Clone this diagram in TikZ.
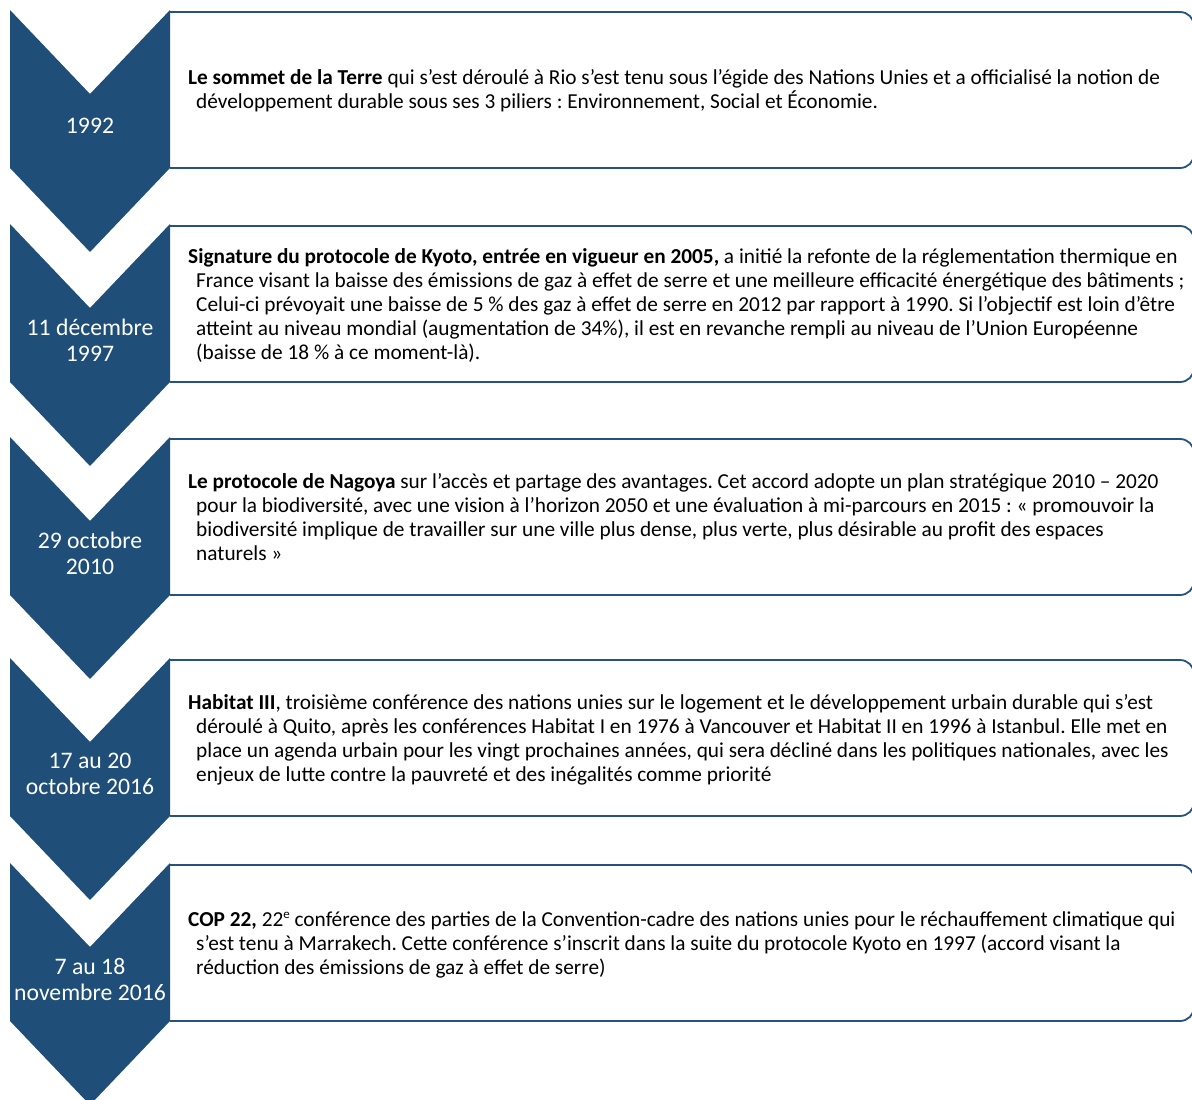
\documentclass[tikz,border=0pt]{standalone}
\usepackage{fontspec}
\setmainfont{Carlito}
\definecolor{navy}{HTML}{1F4E79}
\definecolor{edge}{HTML}{25527F}
\begin{document}
\frenchspacing
\begin{tikzpicture}[x=1pt,y=-1pt,
  chev/.style={fill=navy,draw=none},
  evbox/.style={draw=edge,line width=1.8pt,rounded corners=14pt},
  datelbl/.style={text=white,align=center,inner sep=0pt,font=\fontsize{23.7}{26}\selectfont},
  evtext/.style={anchor=west,align=left,inner sep=0pt,text=black,font=\fontsize{21.3}{24}\selectfont}]
\useasboundingbox (0,0) rectangle (1192,1100);
\clip (0,0) rectangle (1192,1100);
\newcommand{\ind}{\hspace*{8pt}}
\newcommand{\supe}{\raisebox{0.72ex}{\fontsize{13}{13}\selectfont e}}
% chevrons and boxes
\foreach \t/\n in {10/1,224/2,437/3,658/4,863/5}{
  \path[chev] (10,\t) -- (90,\t+84) -- (170,\t) -- (170,\t+158) -- (90,\t+242) -- (10,\t+158) -- cycle;
  \draw[evbox] (170,\t+2) -- (1194,\t+2) -- (1194,\t+158) -- (170,\t+158);
}
% dates
\node[datelbl] (d1) at (90,126) {1992};
\node[datelbl] (d2) at (90,340) {11 décembre\\1997};
\node[datelbl] (d3) at (90,553) {29 octobre\\2010};
\node[datelbl] (d4) at (90,774) {17 au 20\\octobre 2016};
\node[datelbl] (d5) at (90,979) {7 au 18\\novembre 2016};
% texts
\node[evtext] (t1) at (188,90.5) {\textbf{Le sommet de la Terre} qui s’est déroulé à Rio s’est tenu sous l’égide des Nations Unies et a officialisé la notion de\\
\ind développement durable sous ses 3 piliers : Environnement, Social et Économie.};
\node[evtext] (t2) at (188,305.5) {\textbf{Signature du protocole de Kyoto, entrée en vigueur en 2005,} a initié la refonte de la réglementation thermique en\\
\ind France visant la baisse des émissions de gaz à effet de serre et une meilleure efficacité énergétique des bâtiments ;\\
\ind Celui-ci prévoyait une baisse de 5 \% des gaz à effet de serre en 2012 par rapport à 1990. Si l’objectif est loin d’être\\
\ind atteint au niveau mondial (augmentation de 34\%), il est en revanche rempli au niveau de l’Union Européenne\\
\ind (baisse de 18 \% à ce moment-là).};
\node[evtext] (t3) at (188,517.5) {\textbf{Le protocole de Nagoya} sur l’accès et partage des avantages. Cet accord adopte un plan stratégique 2010 – 2020\\
\ind pour la biodiversité, avec une vision à l’horizon 2050 et une évaluation à mi-parcours en 2015 : « promouvoir la\\
\ind biodiversité implique de travailler sur une ville plus dense, plus verte, plus désirable au profit des espaces\\
\ind naturels »};
\node[evtext] (t4) at (188,739.5) {\textbf{Habitat III}, troisième conférence des nations unies sur le logement et le développement urbain durable qui s’est\\
\ind déroulé à Quito, après les conférences Habitat I en 1976 à Vancouver et Habitat II en 1996 à Istanbul. Elle met en\\
\ind place un agenda urbain pour les vingt prochaines années, qui sera décliné dans les politiques nationales, avec les\\
\ind enjeux de lutte contre la pauvreté et des inégalités comme priorité};
\node[evtext] (t5) at (188,944.5) {\textbf{COP 22,} 22\supe{} conférence des parties de la Convention-cadre des nations unies pour le réchauffement climatique qui\\
\ind s’est tenu à Marrakech. Cette conférence s’inscrit dans la suite du protocole Kyoto en 1997 (accord visant la\\
\ind réduction des émissions de gaz à effet de serre)};
\end{tikzpicture}
\end{document}
